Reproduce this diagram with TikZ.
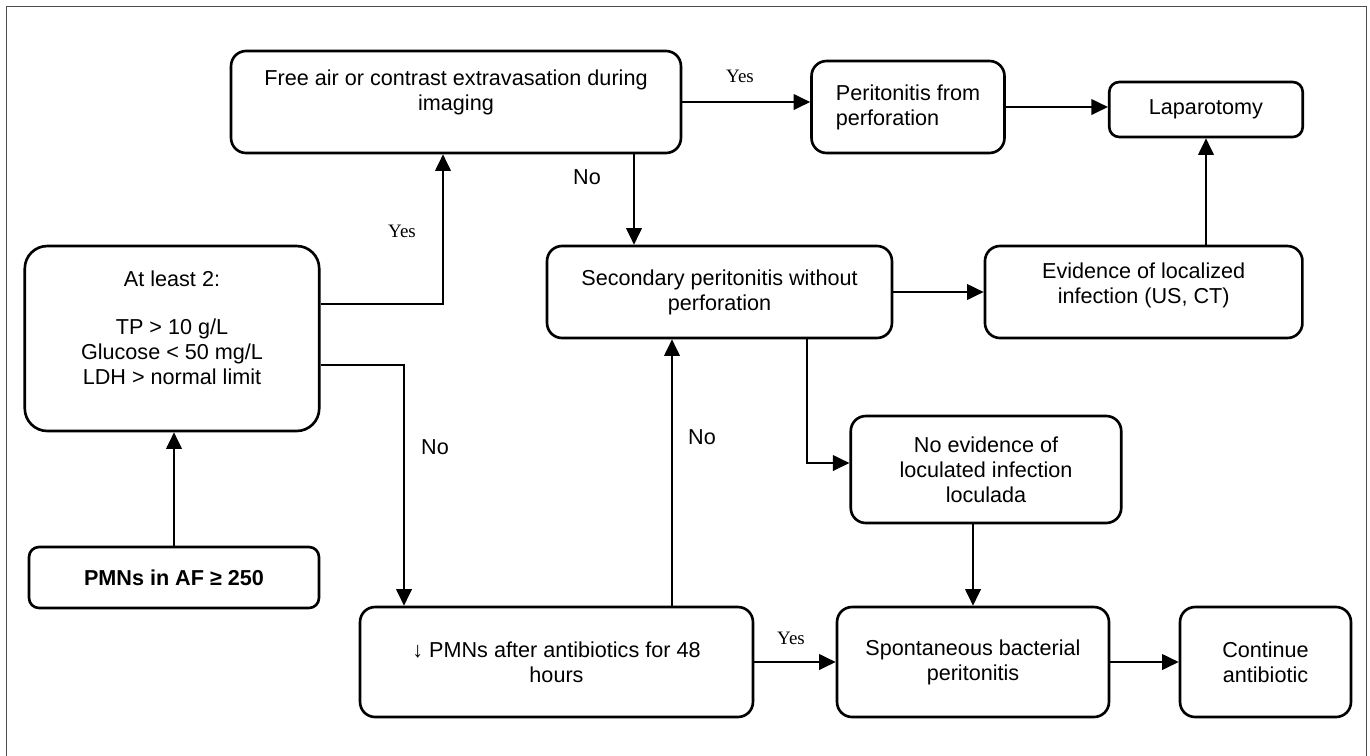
\documentclass[tikz,border=0pt]{standalone}
\usepackage{fontspec}
\setmainfont{Liberation Sans}
\newfontfamily\yesfont{Liberation Serif}
\usetikzlibrary{positioning}
\usetikzlibrary{arrows.meta}
\tikzset{
    box/.style = {rectangle, rounded corners=0.3cm, line width=1.5pt, draw=black, align=center, fill=white, inner sep=2pt},
    boxbig/.style = {box, rounded corners=0.45cm},
    boxsmall/.style = {box, rounded corners=0.2cm},
    edgea/.style = {-{Triangle[length=0.33cm,width=0.31cm]}, line width=1.1pt, black},
    edgen/.style = {-, line width=1.1pt, black},
    yeslbl/.style = {font=\yesfont\fontsize{10.8}{12}\selectfont},
    nolbl/.style = {font=\fontsize{12.3}{14.2}\selectfont},
    every picture/.style={font issue=\fontsize{12.3}{14.2}},
    font issue/.style={execute at begin picture={#1\selectfont}}
}

\begin{document}
\begin{tikzpicture}[x=0.02cm, y=-0.02cm]
  \useasboundingbox (0,0) rectangle (1370,755);
  \draw[line width=0.8pt, gray!60!black] (6.7,760) -- (6.7,6.7) -- (1366.7,6.7) -- (1366.7,760);

  % boxes
  \node[box, minimum width=9cm, minimum height=2.04cm] (freeair) at (456,102)
    {Free air or contrast extravasation during\\imaging\rule[-0.48cm]{0pt}{0pt}};
  \node[box, align=left, minimum width=3.86cm, minimum height=1.84cm] (perit) at (908,107)
    {Peritonitis from\\perforation};
  \node[boxsmall, minimum width=3.87cm, minimum height=1.1cm] (lapar) at (1206,109.5) {Laparotomy};
  \node[boxbig, minimum width=5.89cm, minimum height=3.7cm] (least2) at (172,338.5)
    {At least 2:\\[0.46cm]TP > 10 g/L\\Glucose < 50 mg/L\\LDH > normal limit\rule[-0.44cm]{0pt}{0pt}};
  \node[box, minimum width=6.9cm, minimum height=1.84cm] (second) at (719.5,292)
    {Secondary peritonitis without\\perforation};
  \node[box, minimum width=6.35cm, minimum height=1.84cm] (evid) at (1143.7,292)
    {Evidence of localized\\infection (US, CT)\rule[-0.34cm]{0pt}{0pt}};
  \node[box, minimum width=5.41cm, minimum height=2.14cm] (noevid) at (986,469.5)
    {No evidence of\\loculated infection\\loculada};
  \node[boxsmall, minimum width=5.8cm, minimum height=1.22cm, font=\bfseries] (pmn) at (174,577.5)
    {PMNs in AF ≥ 250};
  \node[box, minimum width=7.86cm, minimum height=2.2cm] (pmdrop) at (556.5,662)
    {↓ PMNs after antibiotics for 48\\hours};
  \node[box, minimum width=5.44cm, minimum height=2.2cm] (spont) at (973,662)
    {Spontaneous bacterial\\peritonitis};
  \node[box, minimum width=3.42cm, minimum height=2.2cm] (cont) at (1265.5,662)
    {Continue\\antibiotic};

  % bends
  \coordinate (yesbend) at (443,304);
  \coordinate (nobend) at (404,365);
  \coordinate (secx) at (634,0);
  \coordinate (backx) at (672,0);
  \coordinate (locbend) at (807,463);

  % connectors
  \draw[edgea] (pmn.north) -- (pmn.north |- least2.south);
  \draw[edgea] (least2.east |- yesbend) -- (yesbend) -- (freeair.south -| yesbend);
  \draw[edgea] (least2.east |- nobend) -- (nobend) -- (pmdrop.north -| nobend);
  \draw[edgea] (freeair.south -| secx) -- (second.north -| secx);
  \draw[edgea] (freeair.east) -- (freeair.east -| perit.west);
  \draw[edgea] (perit.east) -- (perit.east -| lapar.west);
  \draw[edgea] (lapar.south |- evid.north) -- (lapar.south);
  \draw[edgea] (second.east) -- (evid.west);
  \draw[edgea] (second.south -| locbend) -- (locbend) -- (noevid.west |- locbend);
  \draw[edgea] (spont.north |- noevid.south) -- (spont.north);
  \draw[edgea] (pmdrop.east) -- (spont.west);
  \draw[edgea] (spont.east) -- (cont.west);
  \draw[edgea] (pmdrop.north -| backx) -- (second.south -| backx);

  % labels
  \node[yeslbl] (yes1) at (402,231) {Yes};
  \node[yeslbl] (yes2) at (740,76) {Yes};
  \node[yeslbl] (yes3) at (791,638) {Yes};
  \node[nolbl] (no1) at (587,177) {No};
  \node[nolbl] (no2) at (435,447) {No};
  \node[nolbl] (no3) at (702,437) {No};

\end{tikzpicture}
\end{document}
